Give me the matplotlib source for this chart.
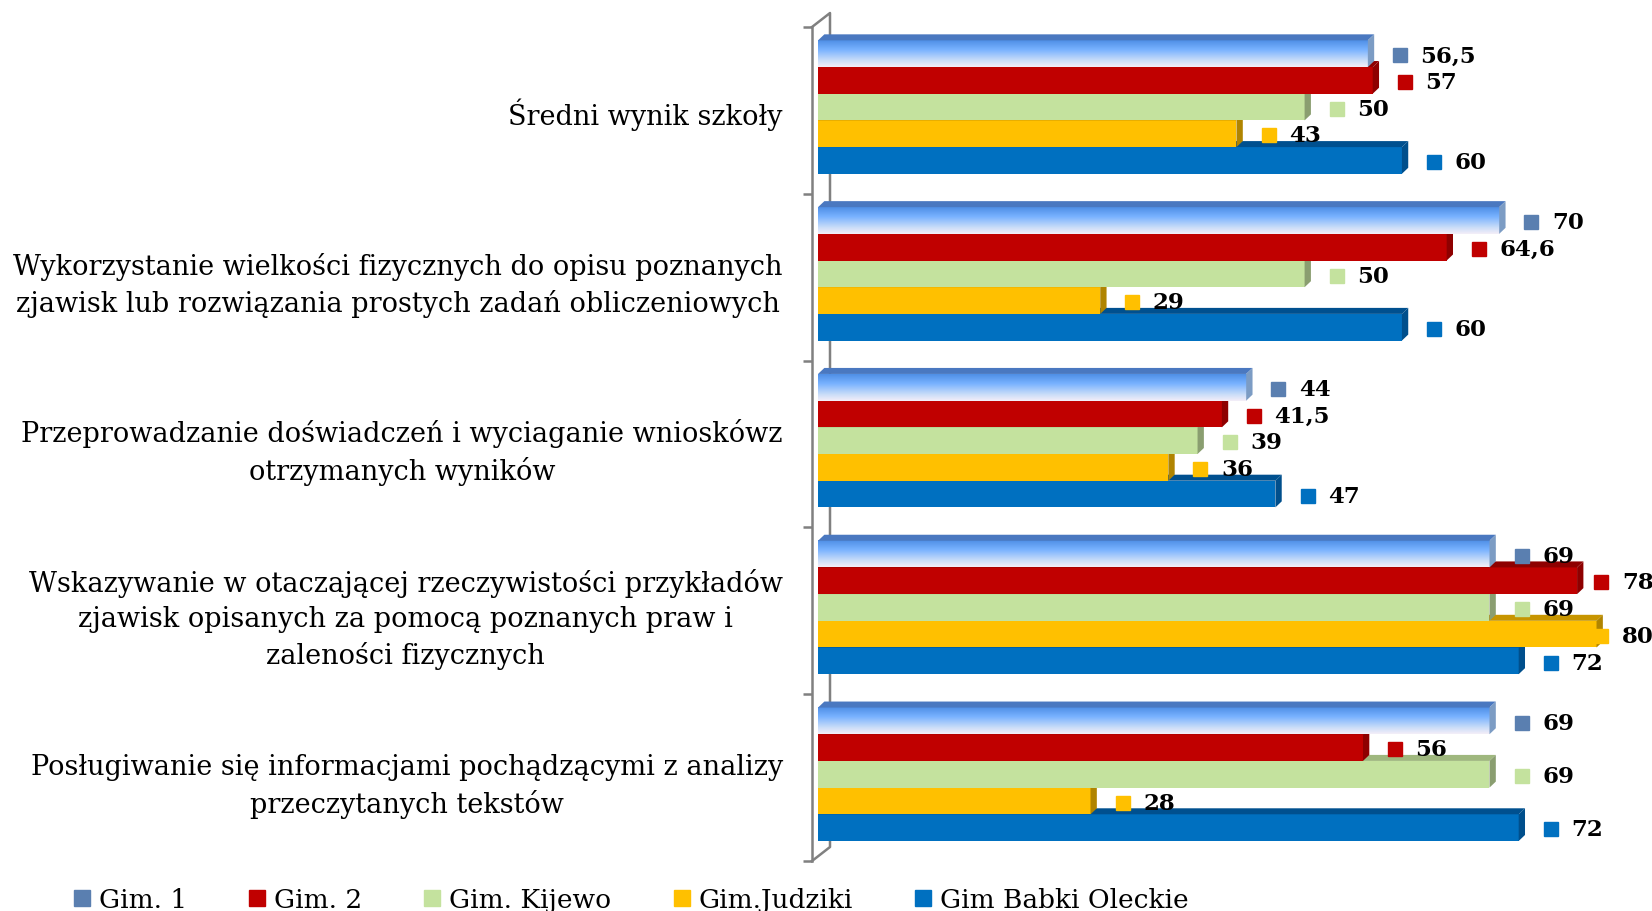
import matplotlib.pyplot as plt
import matplotlib.patches as mpatches
from matplotlib.colors import LinearSegmentedColormap
from matplotlib.lines import Line2D
import numpy as np

# Dane z wykresu
categories = [
    "Średni wynik szkoły",
    "Wykorzystanie wielkości fizycznych do opisu poznanych\nzjawisk lub rozwiązania prostych zadań obliczeniowych",
    "Przeprowadzanie doświadczeń i wyciaganie wnioskówz\notrzymanych wyników",
    "Wskazywanie w otaczającej rzeczywistości przykładów\nzjawisk opisanych za pomocą poznanych praw i\nzaleności fizycznych",
    "Posługiwanie się informacjami pochądzącymi z analizy\nprzeczytanych tekstów",
]
series_names = ["Gim. 1", "Gim. 2", "Gim. Kijewo", "Gim.Judziki", "Gim Babki Oleckie"]
gim1 = [56.5, 70, 44, 69, 69]
gim2 = [57, 64.6, 41.5, 78, 56]
kijewo = [50, 50, 39, 69, 69]
judziki = [43, 29, 36, 80, 28]
babki = [60, 60, 47, 72, 72]
series = [gim1, gim2, kijewo, judziki, babki]

# kolory: przód, góra, bok
front_colors = [None, '#c00000', '#c4e29e', '#ffc000', '#0070c0']
top_colors = ['#4a78c0', '#8e0000', '#9fb77e', '#c79500', '#00508f']
side_colors = ['#7c9cc4', '#8e0000', '#8a9e70', '#b08400', '#004f8c']
legend_colors = ['#5a7fb0', '#c00000', '#c4e29e', '#ffc000', '#0070c0']
gim1_grad = LinearSegmentedColormap.from_list(
    'gim1', [(0, '#4f8fe6'), (0.35, '#78b2ff'), (0.75, '#c8dcf8'), (1, '#f4eef8')])

plt.rcParams['font.family'] = ['DejaVu Serif']

fig = plt.figure(figsize=(16.52, 9.12), dpi=100)
ax = fig.add_axes([812 / 1652, 50 / 912, 840 / 1652, 834 / 912])

bar_h = 0.16
DX, DY = 0.65, 0.036
sq_off, txt_off, txt_max = 3.3, 5.4, 82.6   # etykiety (jednostki osi x)


def fmt(v):
    return f'{v:g}'.replace('.', ',')


for k in range(len(categories)):
    base = k - 0.4 - 0.02
    for i in reversed(range(len(series))):
        v = series[i][k]
        y0 = base + i * bar_h
        if i == 0:
            ax.imshow(np.linspace(0, 1, 64).reshape(-1, 1), cmap=gim1_grad,
                      extent=(0, v, y0, y0 + bar_h), origin='lower',
                      aspect='auto', interpolation='bilinear', zorder=2)
        else:
            ax.add_patch(mpatches.Rectangle((0, y0), v, bar_h, facecolor=front_colors[i],
                                            edgecolor='none', zorder=2))
        ax.add_patch(mpatches.Polygon([(0, y0), (v, y0), (v + DX, y0 - DY), (DX, y0 - DY)],
                                      closed=True, facecolor=top_colors[i], edgecolor='none', zorder=2))
        ax.add_patch(mpatches.Polygon([(v, y0), (v, y0 + bar_h), (v + DX, y0 + bar_h - DY), (v + DX, y0 - DY)],
                                      closed=True, facecolor=side_colors[i], edgecolor='none', zorder=2))
        yc = y0 + bar_h / 2 + 0.01
        tx = min(v + txt_off, txt_max)
        sx = tx - (txt_off - sq_off)
        ax.plot([sx], [yc], marker='s', markersize=10.5, linestyle='none', color=legend_colors[i],
                clip_on=False, zorder=3)
        ax.text(tx, yc, fmt(v), fontsize=16.5, fontweight='bold', ha='left', va='center',
                clip_on=False, zorder=4)

ax.set_xlim(-0.62, 85.7)
ax.set_ylim(4.5, -0.5)

for s in ['top', 'right', 'bottom']:
    ax.spines[s].set_visible(False)
ax.spines['left'].set_color('#808080')
ax.spines['left'].set_linewidth(1.8)
ax.set_xticks([])

ax.set_yticks(range(len(categories)))
ax.set_yticklabels(categories, fontsize=19.5, linespacing=1.4)
for lbl in ax.get_yticklabels():
    lbl.set_multialignment('center')
ax.tick_params(axis='y', which='major', length=0, pad=21)
ax.set_yticks(np.arange(-0.5, 5, 1), minor=True)
ax.tick_params(axis='y', which='minor', length=6.5, width=1.8, color='#808080')

# tylna ściana 3D
wx, wy = 18 / 840, 14 / 834
ax.plot([0, wx, wx, 0], [1, 1 + wy, wy, 0], color='#808080', linewidth=1.8,
        transform=ax.transAxes, clip_on=False, zorder=1)

handles = [Line2D([], [], marker='s', linestyle='none', markersize=11, color=c) for c in legend_colors]
fig.legend(handles, series_names, loc='center left', bbox_to_anchor=(62 / 1652, 11 / 912),
           ncol=5, frameon=False, fontsize=19, handlelength=0.7, handletextpad=0.3,
           columnspacing=2.3, borderaxespad=0)

fig.savefig('out.png', dpi=100)
